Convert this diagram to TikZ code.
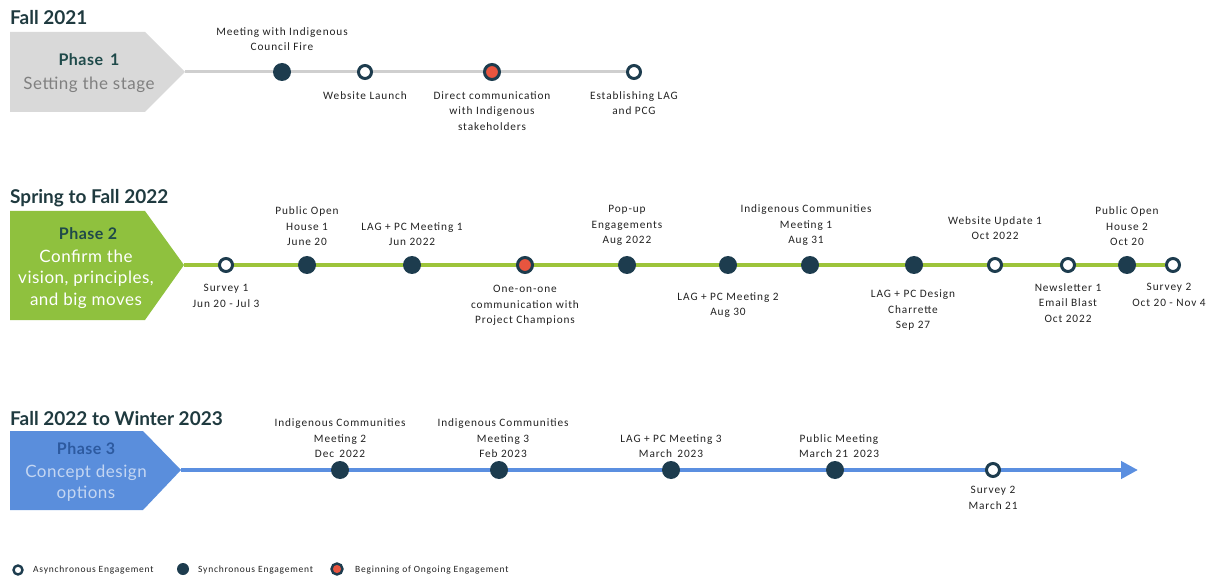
\documentclass[tikz,border=0pt]{standalone}
\usepackage{fontspec}
\setmainfont{Carlito}[LetterSpace=8]
\newfontfamily\titlefont{Lato}
\newfontfamily\phasefont{Lato}[LetterSpace=3]
\usetikzlibrary{positioning,arrows.meta,backgrounds}
\definecolor{dark}{HTML}{1D3C4E}
\definecolor{ongo}{HTML}{E8553F}
\definecolor{p1fill}{HTML}{D9D9D9}
\definecolor{p1line}{HTML}{CFCFCF}
\definecolor{p2fill}{HTML}{8FC13E}
\definecolor{p2line}{HTML}{9DC43A}
\definecolor{p3fill}{HTML}{5A8EDC}
\definecolor{p3line}{HTML}{5B8FE0}
\definecolor{titlec}{HTML}{1F3A3F}
\definecolor{phasec}{HTML}{1F4A4A}
\definecolor{p3head}{HTML}{2D5AA0}
\definecolor{p3body}{HTML}{C4D6F2}
\definecolor{labc}{HTML}{222222}
\tikzset{
  async/.style={circle, fill=white, draw=dark, line width=3pt, minimum size=13pt, inner sep=0pt},
  sync/.style={circle, fill=dark, minimum size=18pt, inner sep=0pt},
  ongoing/.style={circle, fill=ongo, draw=dark, line width=3pt, minimum size=15pt, inner sep=0pt},
  lbl/.style={align=center, text=labc, font=\fontsize{11.3}{15.5}\selectfont, inner sep=0pt},
  ttl/.style={anchor=west, text=titlec, font=\titlefont\bfseries\fontsize{19}{22}\selectfont, inner sep=0pt},
  phead/.style={font=\phasefont\bfseries\fontsize{16}{19}\selectfont, inner sep=0pt},
  pbody/.style={align=center, font=\phasefont\fontsize{17}{21.5}\selectfont, inner sep=0pt},
  lgd/.style={anchor=west, text=labc, font=\fontsize{9.5}{11}\selectfont, inner sep=0pt},
}
\begin{document}
\begin{tikzpicture}[x=1pt,y=-1pt]
\useasboundingbox (0,0) rectangle (1224,580);
% ---------- Phase 1 ----------
\node[ttl] (t1) at (10,18) {Fall 2021};
\fill[p1fill] (10,32) -- (145,32) -- (185,72) -- (145,112) -- (10,112) -- cycle;
\coordinate (p1tip) at (185,72);
\node[phead, text=phasec] (ph1) at (89,60) {Phase\, 1};
\node[pbody, text=gray] (pb1) at (89,85) {Setting the stage};
\node[sync] (a1) at (282,72) {};
\node[async] (a2) at (365,72) {};
\node[ongoing] (a3) at (492,72) {};
\node[async] (a4) at (634,72) {};
\node[lbl, anchor=south] (la1) at (282,51) {Meeting with Indigenous\\Council Fire};
\node[lbl, anchor=north] (la2) at (365,91) {Website Launch};
\node[lbl, anchor=north] (la3) at (492,91) {Direct communication\\with Indigenous\\stakeholders};
\node[lbl, anchor=north] (la4) at (634,91) {Establishing LAG\\and PCG};
\begin{scope}[on background layer]
\draw[p1line, line width=3pt] (p1tip) -- (a4);
\end{scope}
% ---------- Phase 2 ----------
\node[ttl] (t2) at (10,198) {Spring to Fall 2022};
\fill[p2fill] (10,211) -- (145,211) -- (184,265) -- (145,320) -- (10,320) -- cycle;
\coordinate (p2tip) at (184,265);
\node[phead, text=phasec] (ph2) at (88,234) {Phase 2};
\node[pbody, text=white] (pb2) at (86,279) {Confirm the\\vision, principles,\\and big moves};
\node[async] (b1) at (226,265) {};
\node[sync] (b2) at (307,265) {};
\node[sync] (b3) at (412,265) {};
\node[ongoing] (b4) at (525,265) {};
\node[sync] (b5) at (627,265) {};
\node[sync] (b6) at (728,265) {};
\node[sync] (b7) at (810,265) {};
\node[sync] (b8) at (914,265) {};
\node[async] (b9) at (995,265) {};
\node[async] (b10) at (1068,265) {};
\node[sync] (b11) at (1127,265) {};
\node[async] (b12) at (1173,265) {};
\node[lbl, anchor=north] (lb1) at (226,284) {Survey 1\\Jun 20 - Jul 3};
\node[lbl, anchor=south] (lb2) at (307,246) {Public Open\\House 1\\June 20};
\node[lbl, anchor=south] (lb3) at (412,246) {LAG + PC Meeting 1\\Jun 2022};
\node[lbl, anchor=north] (lb4) at (525,285) {One-on-one\\communication with\\Project Champions};
\node[lbl, anchor=south] (lb5) at (627,246) {Pop-up\\Engagements\\Aug 2022};
\node[lbl, anchor=north] (lb6) at (728,292) {LAG + PC Meeting 2\\Aug 30};
\node[lbl, anchor=south] (lb7) at (806,246) {Indigenous Communities\\Meeting 1\\Aug 31};
\node[lbl, anchor=north] (lb8) at (913,290) {LAG + PC Design\\Charrette\\Sep 27};
\node[lbl, anchor=south] (lb9) at (995,240) {Website Update 1\\Oct 2022};
\node[lbl, anchor=north] (lb10) at (1068,283) {Newsletter 1\\Email Blast\\Oct 2022};
\node[lbl, anchor=south] (lb11) at (1127,246) {Public Open\\House 2\\Oct 20};
\node[lbl, anchor=north] (lb12) at (1169,283) {Survey 2\\Oct 20 - Nov 4};
\begin{scope}[on background layer]
\draw[p2line, line width=4.5pt] (p2tip) -- (b12);
\end{scope}
% ---------- Phase 3 ----------
\node[ttl] (t3) at (10,419) {Fall 2022 to Winter 2023};
\fill[p3fill] (10,431) -- (143,431) -- (181,470) -- (143,510) -- (10,510) -- cycle;
\coordinate (p3tip) at (181,470);
\coordinate (p3end) at (1138,470);
\node[phead, text=p3head] (ph3) at (86,449) {Phase 3};
\node[pbody, text=p3body] (pb3) at (86,483) {Concept design\\options};
\node[sync] (c1) at (340,470) {};
\node[sync] (c2) at (499,470) {};
\node[sync] (c3) at (671,470) {};
\node[sync] (c4) at (835,470) {};
\node[async] (c5) at (993,470) {};
\node[lbl, anchor=south] (lc1) at (340,458) {Indigenous Communities\\Meeting 2\\Dec\, 2022};
\node[lbl, anchor=south] (lc2) at (503,458) {Indigenous Communities\\Meeting 3\\Feb 2023};
\node[lbl, anchor=south] (lc3) at (671,458) {LAG + PC Meeting 3\\March\, 2023};
\node[lbl, anchor=south] (lc4) at (839,458) {Public Meeting\\March 21\, 2023};
\node[lbl, anchor=north] (lc5) at (993,486) {Survey 2\\March 21};
\begin{scope}[on background layer]
\draw[p3line, line width=4.5pt, -{Triangle[length=17pt, width=17pt]}] (p3tip) -- (p3end);
\end{scope}
% ---------- Legend ----------
\node[async, line width=2.4pt, minimum size=9pt] (g1) at (18,570) {};
\node[lgd] (gl1) at (33,570) {Asynchronous Engagement};
\node[sync, minimum size=12pt] (g2) at (183,569) {};
\node[lgd] (gl2) at (198,570) {Synchronous Engagement};
\node[ongoing, line width=2.4pt, minimum size=11pt] (g3) at (337,569) {};
\node[lgd] (gl3) at (355,570) {Beginning of Ongoing Engagement};
\end{tikzpicture}
\end{document}
